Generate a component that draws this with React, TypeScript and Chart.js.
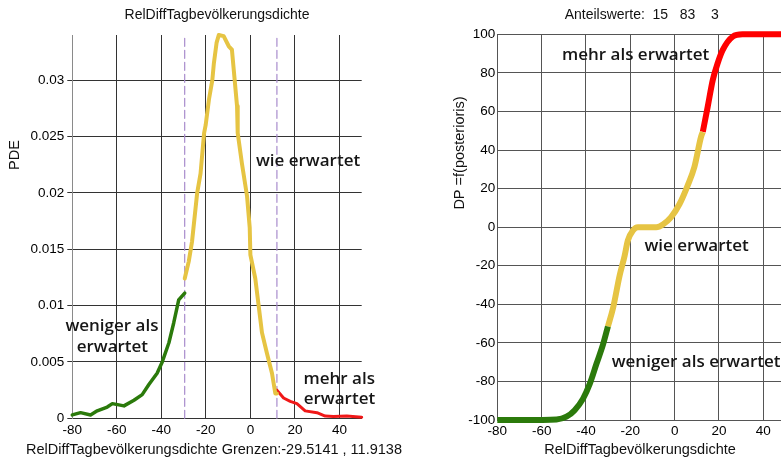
import React, { useEffect, useRef } from "react";
import { Chart, registerables } from "chart.js";
Chart.register(...registerables);

// ---------- data: left panel (PDE) ----------
const pdeGreenX = [-80, -76.3, -71.8, -68.8, -64.3, -62, -56.8, -52.3, -48.6, -45.6, -41.9, -39.6, -36.6, -34.4, -32.2, -29.5];
const pdeGreenY = [0.0003, 0.0005, 0.0003, 0.00066, 0.001, 0.0013, 0.0011, 0.0016, 0.0021, 0.003, 0.004, 0.005, 0.0067, 0.0085, 0.0105, 0.0111];
const pdeYellowX = [-29.5, -27.7, -26.2, -23.9, -22.4, -20.8, -20.1, -18.6, -17.1, -16.4, -15.2, -14.2, -12, -9.7, -8.3, -6, -5.7, -3.8, -1.5, -0.3, 0, 2.2, 3.7, 5.2, 7.4, 9.7, 11.2, 11.9];
const pdeYellowY = [0.0124, 0.0139, 0.0157, 0.02, 0.0217, 0.0253, 0.026, 0.0283, 0.03, 0.0315, 0.0333, 0.034, 0.0339, 0.033, 0.0327, 0.0277, 0.0253, 0.0226, 0.0197, 0.0169, 0.0145, 0.0124, 0.01, 0.0076, 0.0058, 0.004, 0.0022, 0.0022];
const pdeRedX = [11.9, 14.9, 17.9, 20.9, 24.6, 29.9, 33.6, 37.3, 43.3, 50];
const pdeRedY = [0.0025, 0.0018, 0.0015, 0.0013, 0.00066, 0.0005, 0.0002, 0.00015, 0.0002, 0.0001];
const grenzen = [-29.5141, 11.9138];
const pdeMax = 0.034;

// ---------- data: right panel (DP) ----------
const dpGreenX = [-80, -68.3, -53.3, -48.8, -45.1, -41.3, -38.3, -35.3, -32.3, -30.1];
const dpGreenY = [-100, -100, -99.7, -98.3, -94.9, -88.9, -81.3, -71, -60.8, -51.5];
const dpYellowX = [-30.1, -27.8, -24.8, -22.6, -21.1, -18.8, -16.6, -8.3, -5.3, -1.6, 2.2, 5.9, 8.9, 11.9, 12.7];
const dpYellowY = [-51.5, -42, -25, -15, -6.9, -1.7, 0, 0, 1.4, 5.2, 12, 21.7, 31.2, 46.8, 49.4];
const dpRedX = [12.7, 14.9, 17.2, 19.4, 21.7, 26.2, 30.6, 50];
const dpRedY = [49.4, 62.4, 76.3, 85, 91.9, 98.8, 100, 100];

const anteile = [15, 83, 3];
const xName = "RelDiffTagbevölkerungsdichte";

const pts = (xs: number[], ys: number[]) => xs.map((x, i) => ({ x, y: ys[i] }));

const GREEN = "#2b7a0b";
const YELLOW = "#e6c443";
const RED_L = "#f01818";
const RED_R = "#ff0000";
const PURPLE = "#a88bcc";
const TICKFONT = { family: "'Liberation Sans', Arial, sans-serif", size: 13.5 };
const ANNOFONT = "600 17px 'Open Sans', 'DejaVu Sans', sans-serif";
const TITLEFONT = "14px 'Liberation Sans', Arial, sans-serif";
const LBLFONT = "14.5px 'Liberation Sans', Arial, sans-serif";

export default function App() {
  const leftRef = useRef<HTMLCanvasElement>(null);
  const rightRef = useRef<HTMLCanvasElement>(null);

  useEffect(() => {
    const leftTexts = {
      id: "leftTexts",
      afterDraw(chart: any) {
        const ctx = chart.ctx;
        const xs = chart.scales.x;
        const ys = chart.scales.y;
        ctx.save();
        ctx.fillStyle = "#111";
        ctx.textAlign = "center";
        ctx.textBaseline = "middle";
        ctx.font = TITLEFONT;
        ctx.fillText(xName, 217, 15);
        ctx.font = LBLFONT;
        ctx.fillText(`${xName} Grenzen:${grenzen[0]} , ${grenzen[1]}`, 214, 450);
        ctx.save();
        ctx.translate(15, 155);
        ctx.rotate(-Math.PI / 2);
        ctx.fillText("PDE", 0, 0);
        ctx.restore();
        ctx.font = ANNOFONT;
        ctx.fillStyle = "#161616";
        const put = (t: string, x: number, y: number) =>
          ctx.fillText(t, xs.getPixelForValue(x), ys.getPixelForValue(y));
        put("wie erwartet", 25.9, 0.0228);
        put("weniger als", -62.2, 0.0082);
        put("erwartet", -62.0, 0.0063);
        put("mehr als", 39.9, 0.0035);
        put("erwartet", 40.0, 0.0017);
        ctx.restore();
      },
    };

    const rightTexts = {
      id: "rightTexts",
      afterDraw(chart: any) {
        const ctx = chart.ctx;
        const xs = chart.scales.x;
        const ys = chart.scales.y;
        ctx.save();
        ctx.fillStyle = "#111";
        ctx.textAlign = "center";
        ctx.textBaseline = "middle";
        ctx.font = TITLEFONT;
        ctx.fillText(`Anteilswerte:  ${anteile[0]}   ${anteile[1]}    ${anteile[2]}`, 201.7, 15);
        ctx.font = LBLFONT;
        ctx.fillText(xName, 200, 450);
        ctx.save();
        ctx.translate(20, 153);
        ctx.rotate(-Math.PI / 2);
        ctx.fillText("DP =f(posterioris)", 0, 0);
        ctx.restore();
        ctx.font = ANNOFONT;
        ctx.fillStyle = "#161616";
        const put = (t: string, x: number, y: number, align: CanvasTextAlign = "center") => {
          ctx.textAlign = align;
          ctx.fillText(t, xs.getPixelForValue(x), ys.getPixelForValue(y));
        };
        put("mehr als erwartet", -17.6, 89.3);
        put("wie erwartet", 9.9, -9.8);
        put("weniger als erwartet", -28.4, -69.9, "left");
        ctx.restore();
      },
    };

    const left = new Chart(leftRef.current!, {
      type: "line",
      data: {
        datasets: [
          { data: pts(pdeGreenX, pdeGreenY), borderColor: GREEN, borderWidth: 3.5 },
          { data: pts(pdeYellowX, pdeYellowY), borderColor: YELLOW, borderWidth: 4 },
          { data: pts(pdeRedX, pdeRedY), borderColor: RED_L, borderWidth: 3 },
          { data: [{ x: grenzen[0], y: 0 }, { x: grenzen[0], y: pdeMax }], borderColor: PURPLE, borderWidth: 1.2, borderDash: [8, 4] },
          { data: [{ x: grenzen[1], y: 0 }, { x: grenzen[1], y: pdeMax }], borderColor: PURPLE, borderWidth: 1.2, borderDash: [8, 4] },
        ].map((d: any) => ({ ...d, pointRadius: 0, tension: 0, fill: false, borderCapStyle: "round", borderJoinStyle: "round", clip: 4 })),
      },
      options: {
        responsive: false,
        animation: false,
        layout: { padding: { left: 0, right: 440 - 361.7, top: 35, bottom: 0 } },
        plugins: { legend: { display: false }, tooltip: { enabled: false } },
        scales: {
          x: {
            type: "linear",
            min: -80,
            max: 50,
            afterFit: (s: any) => { s.height = 462 - 418.3; },
            ticks: { stepSize: 20, includeBounds: false, color: "#000", font: TICKFONT, padding: 4, maxRotation: 0 },
            grid: { color: "#333", drawTicks: false, lineWidth: 1 },
            border: { color: "#333" },
          },
          y: {
            type: "linear",
            min: 0,
            max: pdeMax,
            afterFit: (s: any) => { s.width = 72.3; },
            ticks: {
              stepSize: 0.005,
              includeBounds: false,
              color: "#000",
              font: TICKFONT,
              padding: 3,
              callback: (v: any) => String(+Number(v).toFixed(3)),
            },
            grid: { color: "#333", drawTicks: true, tickLength: 5, lineWidth: 1 },
            border: { color: "#8a8a8a" },
          },
        },
      },
      plugins: [leftTexts],
    } as any);

    const right = new Chart(rightRef.current!, {
      type: "line",
      data: {
        datasets: [
          { data: pts(dpGreenX, dpGreenY), borderColor: GREEN },
          { data: pts(dpYellowX, dpYellowY), borderColor: YELLOW },
          { data: pts(dpRedX, dpRedY), borderColor: RED_R },
        ].map((d: any) => ({ ...d, borderWidth: 6, pointRadius: 0, tension: 0.4, cubicInterpolationMode: "monotone", fill: false, borderCapStyle: "butt", clip: 6 })),
      },
      options: {
        responsive: false,
        animation: false,
        layout: { padding: { left: 0, right: 14.5, top: 34.3, bottom: 0 } },
        plugins: { legend: { display: false }, tooltip: { enabled: false } },
        scales: {
          x: {
            type: "linear",
            min: -80,
            max: 50,
            afterFit: (s: any) => { s.height = 462 - 420; },
            ticks: { stepSize: 20, includeBounds: false, color: "#000", font: TICKFONT, padding: 3, maxRotation: 0 },
            grid: { color: "#555", drawTicks: false, lineWidth: 1 },
            border: { color: "#555" },
          },
          y: {
            type: "linear",
            min: -100,
            max: 100,
            afterFit: (s: any) => { s.width = 57.3; },
            ticks: { stepSize: 20, color: "#000", font: TICKFONT, padding: 2 },
            grid: { color: "#555", drawTicks: false, lineWidth: 1 },
            border: { color: "#555" },
          },
        },
      },
      plugins: [rightTexts],
    } as any);

    return () => {
      left.destroy();
      right.destroy();
    };
  }, []);

  return (
    <div style={{ position: "absolute", left: 0, top: 0, width: 781, height: 462, overflow: "hidden", background: "#fff" }}>
      <canvas ref={leftRef} width={440} height={462} style={{ position: "absolute", left: 0, top: 0 }} />
      <canvas ref={rightRef} width={360} height={462} style={{ position: "absolute", left: 440, top: 0 }} />
    </div>
  );
}
